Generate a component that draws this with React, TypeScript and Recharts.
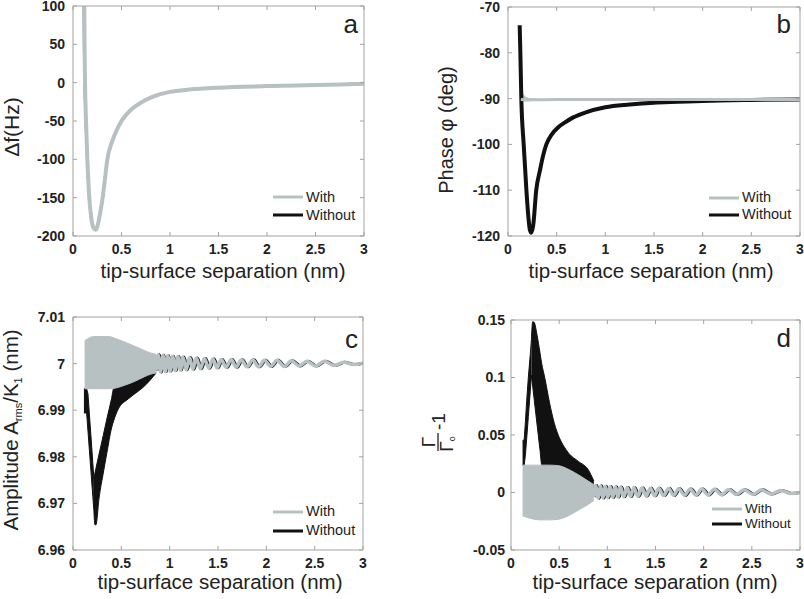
import type { ReactNode } from 'react'
import { ComposedChart, Line, Area, XAxis, YAxis, Legend } from 'recharts'

const GREY = '#b7c1c1'
const INK = '#111'
const FRAME = '#a3a3a3'
const TEXT = '#222'
const FONT = '"Liberation Sans", Arial, Helvetica, sans-serif'
const TICK_LEN = 4

// axes
const xTicks = [0, 0.5, 1, 1.5, 2, 2.5, 3]
const aTicks = [-200, -150, -100, -50, 0, 50, 100]
const bTicks = [-120, -110, -100, -90, -80, -70]
const cTicks = [6.96, 6.97, 6.98, 6.99, 7, 7.01]
const dTicks = [-0.05, 0, 0.05, 0.1, 0.15]

// a: frequency shift, both curves lie on top of each other
const aWithX = [0.114, 0.119, 0.124, 0.134, 0.148, 0.168, 0.19, 0.21, 0.234, 0.26, 0.28, 0.306, 0.33, 0.354, 0.4, 0.45, 0.5, 0.6, 0.7, 0.8, 0.9, 1.0, 1.2, 1.5, 2.0, 2.5, 3.0]
const aWithY = [140, 50, 0, -50, -100, -150, -178, -189, -192, -183, -170, -150, -125, -100, -78, -62, -50, -35, -26, -19.5, -15, -12, -9, -6.5, -4.5, -3, -1.5]
const aWithoutX = [0.111, 0.115, 0.121, 0.132, 0.147, 0.168, 0.19, 0.21, 0.234, 0.26, 0.28, 0.306, 0.33, 0.354, 0.4, 0.45, 0.5, 0.6, 0.7, 0.8, 0.9, 1.0, 1.2, 1.5, 2.0, 2.5, 3.0]
const aWithoutY = aWithY

// b: phase
const bWithoutX = [0.12, 0.127, 0.137, 0.161, 0.189, 0.21, 0.225, 0.24, 0.26, 0.29, 0.33, 0.36, 0.394, 0.45, 0.514, 0.6, 0.67, 0.8, 1.0, 1.25, 1.5, 1.75, 2.0, 2.5, 3.0]
const bWithoutY = [-74, -80, -90, -100, -110, -116, -118.7, -119.3, -117.5, -110, -105.5, -102.5, -100, -97.8, -96.3, -95, -94.1, -93, -91.9, -91.3, -90.9, -90.7, -90.5, -90.3, -90.2]
const bWithX = [0.132, 0.2, 0.3, 0.5, 1, 1.5, 2, 2.5, 3]
const bWithY = [-90.2, -90.3, -90.25, -90.2, -90.2, -90.2, -90.2, -90.2, -90.2]
const bPatchX = [0.132, 0.14, 0.16, 0.19, 0.24, 0.3]
const bPatchLow = [-90.6, -90.6, -90.5, -90.45, -90.4, -90.35]
const bPatchHigh = [-87.2, -88.3, -89.2, -89.8, -90.05, -90.1]

// c: amplitude, unresolved oscillation drawn as envelopes
const cBandX = [0.12, 0.15, 0.21, 0.3, 0.37, 0.45, 0.54, 0.64, 0.74, 0.8, 0.86]
const cBandLow = [6.9946, 6.9946, 6.9946, 6.9946, 6.9946, 6.9948, 6.9954, 6.9962, 6.9972, 6.9977, 6.998]
const cBandHigh = [7.0049, 7.0053, 7.0058, 7.0058, 7.0058, 7.0053, 7.0046, 7.0037, 7.0028, 7.0023, 7.002]
const cLeftX = [0.113, 0.141, 0.155, 0.17, 0.19, 0.205, 0.216]
const cLeftLow = [6.9894, 6.9894, 6.9855, 6.9813, 6.9757, 6.9715, 6.9685]
const cLeftHigh = [6.9946, 6.9946, 6.9935, 6.989, 6.9832, 6.9786, 6.9754]
const cRightX = [0.216, 0.227, 0.237, 0.27, 0.313, 0.35, 0.399, 0.42, 0.467, 0.57, 0.65, 0.725, 0.8, 0.86]
const cRightLow = [6.9685, 6.9654, 6.9654, 6.9712, 6.9765, 6.9808, 6.9862, 6.9877, 6.9902, 6.9924, 6.9937, 6.9949, 6.9965, 6.998]
const cRightHigh = [6.9754, 6.9765, 6.9775, 6.9806, 6.9846, 6.9881, 6.9925, 6.9946, 6.995, 6.996, 6.997, 6.9975, 6.998, 6.9985]

// tails (c and d share the peak positions)
const tailWithX = [0.86, 0.88, 0.905, 0.93, 0.955, 0.98, 1.005, 1.03, 1.057, 1.085, 1.111, 1.137, 1.171, 1.206, 1.24, 1.275, 1.317, 1.36, 1.403, 1.447, 1.49, 1.533, 1.584, 1.636, 1.688, 1.74, 1.8, 1.86, 1.92, 1.98, 2.045, 2.11, 2.185, 2.26, 2.34, 2.42, 2.51, 2.6, 2.7, 2.8, 2.9, 3.0]
const tailWithoutX = [0.872, 0.892, 0.917, 0.942, 0.967, 0.992, 1.017, 1.042, 1.069, 1.097, 1.123, 1.149, 1.183, 1.218, 1.252, 1.287, 1.329, 1.372, 1.415, 1.459, 1.502, 1.545, 1.596, 1.648, 1.7, 1.752, 1.812, 1.872, 1.932, 1.992, 2.057, 2.122, 2.197, 2.272, 2.352, 2.432, 2.522, 2.612, 2.712, 2.812, 2.912, 3.0]
const cTailY = [6.9985, 7.0019, 6.9982, 7.0018, 6.9983, 7.0017, 6.9984, 7.0016, 6.9985, 7.0015, 6.9986, 7.0014, 6.9987, 7.0013, 6.9988, 7.0012, 6.9989, 7.0011, 6.999, 7.001, 6.9991, 7.0009, 6.9992, 7.0009, 6.9992, 7.0008, 6.9993, 7.0008, 6.9993, 7.0007, 6.9994, 7.0007, 6.9994, 7.0006, 6.9995, 7.0005, 6.9995, 7.0005, 6.9996, 7.0003, 6.9998, 7.0001]
const dTailY = [-0.004, 0.006, -0.005, 0.0058, -0.0048, 0.0055, -0.0045, 0.0052, -0.0042, 0.005, -0.004, 0.0047, -0.0037, 0.0044, -0.0034, 0.0042, -0.0032, 0.004, -0.003, 0.0038, -0.0028, 0.0036, -0.0027, 0.0034, -0.0025, 0.0033, -0.0024, 0.0031, -0.0022, 0.003, -0.0021, 0.0029, -0.002, 0.0027, -0.0018, 0.0025, -0.0016, 0.0023, -0.0013, 0.0018, -0.0008, 0]

// d: damping
const dBandX = [0.12, 0.2, 0.3, 0.4, 0.5, 0.6, 0.716, 0.8, 0.86]
const dBandLow = [-0.0203, -0.0225, -0.0238, -0.0238, -0.0232, -0.02, -0.0145, -0.0105, -0.007]
const dBandHigh = [0.0238, 0.0238, 0.0238, 0.0238, 0.0232, 0.02, 0.0145, 0.01, 0.0068]
const dLeftX = [0.12, 0.137, 0.15, 0.163, 0.18, 0.2, 0.212]
const dLeftLow = [0.0238, 0.0238, 0.033, 0.047, 0.066, 0.088, 0.102]
const dLeftHigh = [0.045, 0.046, 0.062, 0.08, 0.1, 0.12, 0.133]
const dRightX = [0.212, 0.225, 0.24, 0.27, 0.3, 0.319, 0.35, 0.4, 0.45, 0.5, 0.55, 0.6, 0.7, 0.8, 0.86]
const dRightLow = [0.102, 0.0925, 0.0815, 0.0595, 0.0377, 0.0238, 0.02, 0.02, 0.02, 0.02, 0.02, 0.015, 0.01, 0.006, 0.004]
const dRightHigh = [0.133, 0.1485, 0.148, 0.137, 0.122, 0.112, 0.1, 0.078, 0.06, 0.048, 0.04, 0.034, 0.027, 0.02, 0.01]

const legendRows = [
  { name: 'With', color: GREY },
  { name: 'Without', color: INK },
]

const pts = (xs: number[], ys: number[]) => xs.map((x, i) => ({ x, y: ys[i] }))
const band = (xs: number[], lo: number[], hi: number[]) => xs.map((x, i) => ({ x, r: [lo[i], hi[i]] }))

const tickText = { fontFamily: FONT, fontWeight: 700, fontSize: 14, fill: TEXT }

const bottomTick = (gap: number) => (p: any) => (
  <g>
    <line x1={p.x} x2={p.x} y1={p.y - gap} y2={p.y - gap - TICK_LEN} stroke={FRAME} />
    <text x={p.x} y={p.y} dy="0.71em" textAnchor="middle" {...tickText}>{String(p.payload.value)}</text>
  </g>
)
const leftTick = (gap: number) => (p: any) => (
  <g>
    <line x1={p.x + gap} x2={p.x + gap + TICK_LEN} y1={p.y} y2={p.y} stroke={FRAME} />
    <text x={p.x} y={p.y} dy="0.35em" textAnchor="end" {...tickText}>{String(p.payload.value)}</text>
  </g>
)
const topTick = (p: any) => <line x1={p.x} x2={p.x} y1={p.y} y2={p.y + TICK_LEN} stroke={FRAME} />
const rightTick = (p: any) => <line x1={p.x} x2={p.x - TICK_LEN} y1={p.y} y2={p.y} stroke={FRAME} />

const legendBox = (row: number, size: number) => () => (
  <div style={{ fontFamily: FONT, fontSize: size, color: TEXT }}>
    {legendRows.map(r => (
      <div key={r.name} style={{ display: 'flex', alignItems: 'center', height: row, whiteSpace: 'nowrap' }}>
        <svg width={30} height={4} style={{ display: 'block' }}>
          <line x1={0} x2={30} y1={2} y2={2} stroke={r.color} strokeWidth={3} />
        </svg>
        <span style={{ marginLeft: 3, lineHeight: `${row}px` }}>{r.name}</span>
      </div>
    ))}
  </div>
)

interface PanelProps {
  left: number
  top: number
  width: number
  height: number
  // plot box inside the chart: left, top, right, bottom
  plot: [number, number, number, number]
  yGap: number
  yDomain: [number, number]
  yTicks: number[]
  xTitle: [number, number]
  yTitle: ReactNode
  letter: [string, number, number]
  legend: [number, number, number, number]
  children: ReactNode
}

function Panel(p: PanelProps) {
  const [pl, pt, pr, pb] = p.plot
  return (
    <div style={{ position: 'absolute', left: p.left, top: p.top }}>
      <ComposedChart
        width={p.width} height={p.height}
        margin={{ top: pt - 1, right: p.width - pr - 1, bottom: 0, left: 0 }}
      >
        <XAxis
          dataKey="x" type="number" domain={[0, 3]} ticks={xTicks} interval={0} allowDataOverflow
          height={p.height - pb} tickSize={0} tickMargin={8} tickLine={false} tick={bottomTick(8)}
          axisLine={{ stroke: FRAME }}
          label={{
            content: () => (
              <text x={p.xTitle[0]} y={p.xTitle[1]} textAnchor="middle" fontFamily={FONT} fontSize={20.5} fill={TEXT}>
                tip-surface separation (nm)
              </text>
            ),
          }}
        />
        <XAxis
          xAxisId="t" orientation="top" dataKey="x" type="number" domain={[0, 3]} ticks={xTicks} interval={0} allowDataOverflow
          height={1} tickSize={0} tickMargin={0} tickLine={false} tick={topTick} axisLine={{ stroke: FRAME }}
        />
        <YAxis
          type="number" domain={p.yDomain} ticks={p.yTicks} interval={0} allowDataOverflow
          width={pl} tickSize={0} tickMargin={p.yGap} tickLine={false} tick={leftTick(p.yGap)}
          axisLine={{ stroke: FRAME }}
          label={{ content: () => p.yTitle }}
        />
        <YAxis
          yAxisId="r" orientation="right" type="number" domain={p.yDomain} ticks={p.yTicks} interval={0} allowDataOverflow
          width={1} tickSize={0} tickMargin={0} tickLine={false} tick={rightTick} axisLine={{ stroke: FRAME }}
          label={{
            content: () => (
              <text x={p.letter[1]} y={p.letter[2]} textAnchor="end" fontFamily={FONT} fontSize={26} fill={TEXT}>
                {p.letter[0]}
              </text>
            ),
          }}
        />
        <Legend
          layout="horizontal" verticalAlign="middle" align="center"
          wrapperStyle={{ left: p.legend[0], top: p.legend[1], width: 'auto', height: 'auto' }}
          content={legendBox(p.legend[2], p.legend[3])}
        />
        {p.children}
      </ComposedChart>
    </div>
  )
}

const yTitleStyle = { fontFamily: FONT, fontSize: 21, fill: TEXT }
const fill = (color: string) => ({ stroke: color, strokeWidth: 1, fill: color, fillOpacity: 1 })

export default function App() {
  return (
    <div style={{ position: 'absolute', left: 0, top: 0, width: 804, height: 599, background: '#fff', overflow: 'hidden' }}>
      <Panel
        left={0} top={0} width={400} height={300}
        plot={[73, 6, 364, 236]} yGap={8}
        yDomain={[-200, 100]} yTicks={aTicks}
        xTitle={[223, 278]}
        yTitle={<text transform="translate(12,127) rotate(-90)" textAnchor="middle" dy="0.35em" {...yTitleStyle}>Δf(Hz)</text>}
        letter={['a', 358, 33]}
        legend={[273, 188, 18, 14.5]}
      >
        {[
          <Line key="a1" data={pts(aWithoutX, aWithoutY)} dataKey="y" name="Without" type="monotone" stroke={INK} strokeWidth={2.5} dot={false} isAnimationActive={false} />,
          <Line key="a2" xAxisId="t" yAxisId="r" data={pts(aWithX, aWithY)} dataKey="y" name="With" type="monotone" stroke={GREY} strokeWidth={4} dot={false} isAnimationActive={false} />,
        ]}
      </Panel>

      <Panel
        left={400} top={0} width={404} height={300}
        plot={[108, 7, 400, 236]} yGap={8}
        yDomain={[-120, -70]} yTicks={bTicks}
        xTitle={[251, 278]}
        yTitle={<text transform="translate(46,130) rotate(-90)" textAnchor="middle" dy="0.35em" {...yTitleStyle} fontSize={20}>Phase φ (deg)</text>}
        letter={['b', 391, 33]}
        legend={[309, 189, 17, 14.5]}
      >
        {[
          <Line key="b1" data={pts(bWithoutX, bWithoutY)} dataKey="y" name="Without" type="monotone" stroke={INK} strokeWidth={4} dot={false} isAnimationActive={false} />,
          <Line key="b2" data={pts(bWithX, bWithY)} dataKey="y" name="With" type="monotone" stroke={GREY} strokeWidth={3} dot={false} isAnimationActive={false} />,
          <Area key="b3" xAxisId="t" yAxisId="r" data={band(bPatchX, bPatchLow, bPatchHigh)} dataKey="r" type="monotone" {...fill(GREY)} legendType="none" dot={false} activeDot={false} isAnimationActive={false} />,
        ]}
      </Panel>

      <Panel
        left={0} top={300} width={400} height={299}
        plot={[73, 17, 363, 250]} yGap={8}
        yDomain={[6.96, 7.01]} yTicks={cTicks}
        xTitle={[220, 289]}
        yTitle={
          <text transform="translate(11,130) rotate(-90)" textAnchor="middle" dy="0.35em" {...yTitleStyle} fontSize={20.5}>
            Amplitude  A<tspan fontSize={11} dy={4}>rms</tspan><tspan dy={-4}>/K</tspan><tspan fontSize={11} dy={4}>1</tspan><tspan dy={-4}> (nm)</tspan>
          </text>
        }
        letter={['c', 358, 48]}
        legend={[273, 202, 19, 14.5]}
      >
        {[
          <Area key="c1" data={band(cLeftX, cLeftLow, cLeftHigh)} dataKey="r" type="linear" {...fill(INK)} legendType="none" dot={false} activeDot={false} isAnimationActive={false} />,
          <Area key="c2" data={band(cRightX, cRightLow, cRightHigh)} dataKey="r" type="monotone" {...fill(INK)} legendType="none" dot={false} activeDot={false} isAnimationActive={false} />,
          <Line key="c3" data={pts(tailWithoutX, cTailY)} dataKey="y" name="Without" type="monotone" stroke={INK} strokeWidth={3} dot={false} isAnimationActive={false} />,
          <Area key="c4" data={band(cBandX, cBandLow, cBandHigh)} dataKey="r" type="monotone" {...fill(GREY)} legendType="none" dot={false} activeDot={false} isAnimationActive={false} />,
          <Line key="c5" xAxisId="t" yAxisId="r" data={pts(tailWithX, cTailY)} dataKey="y" name="With" type="monotone" stroke={GREY} strokeWidth={3.5} dot={false} isAnimationActive={false} />,
        ]}
      </Panel>

      <Panel
        left={400} top={300} width={404} height={299}
        plot={[111, 20, 400, 250]} yGap={6}
        yDomain={[-0.05, 0.15]} yTicks={dTicks}
        xTitle={[255, 289]}
        yTitle={
          <g transform="translate(38,131) rotate(-90)" fontFamily={FONT} fill={TEXT}>
            <text x={-11} y={-3} textAnchor="middle" fontSize={19}>Γ</text>
            <line x1={-20} x2={-2} y1={0} y2={0} stroke={TEXT} strokeWidth={1.3} />
            <text x={-13} y={15} textAnchor="middle" fontSize={19}>Γ<tspan fontSize={9} dy={2}>o</tspan></text>
            <text x={1} y={7} fontSize={19}>-1</text>
          </g>
        }
        letter={['d', 391, 47]}
        legend={[312, 201, 15, 13.5]}
      >
        {[
          <Area key="d1" data={band(dLeftX, dLeftLow, dLeftHigh)} dataKey="r" type="linear" {...fill(INK)} legendType="none" dot={false} activeDot={false} isAnimationActive={false} />,
          <Area key="d2" data={band(dRightX, dRightLow, dRightHigh)} dataKey="r" type="monotone" {...fill(INK)} legendType="none" dot={false} activeDot={false} isAnimationActive={false} />,
          <Line key="d3" data={pts(tailWithoutX, dTailY)} dataKey="y" name="Without" type="monotone" stroke={INK} strokeWidth={3} dot={false} isAnimationActive={false} />,
          <Area key="d4" data={band(dBandX, dBandLow, dBandHigh)} dataKey="r" type="monotone" {...fill(GREY)} legendType="none" dot={false} activeDot={false} isAnimationActive={false} />,
          <Line key="d5" xAxisId="t" yAxisId="r" data={pts(tailWithX, dTailY)} dataKey="y" name="With" type="monotone" stroke={GREY} strokeWidth={3.5} dot={false} isAnimationActive={false} />,
        ]}
      </Panel>
    </div>
  )
}
